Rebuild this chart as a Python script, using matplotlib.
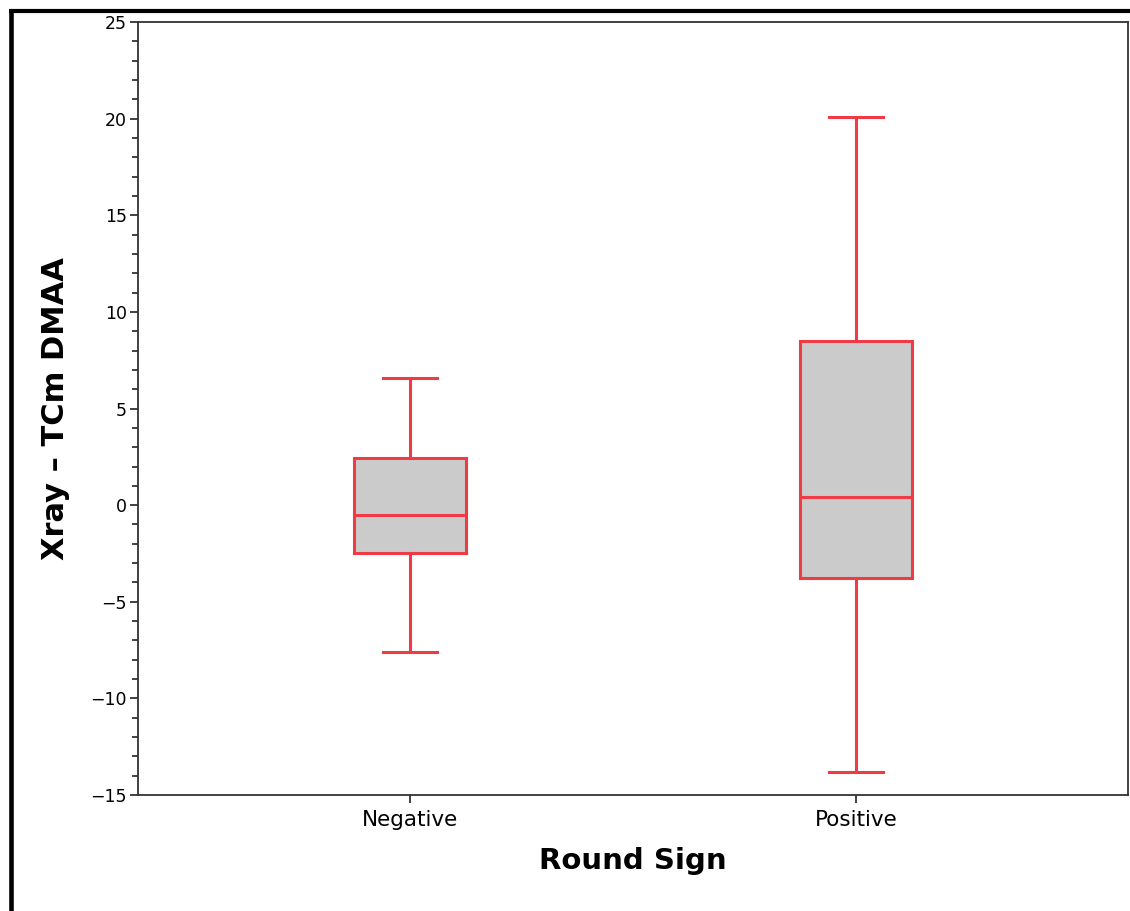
import matplotlib
matplotlib.use("Agg")
import matplotlib.pyplot as plt
from matplotlib.lines import Line2D
from matplotlib.ticker import MultipleLocator

# Box summary values
groups = ["Negative", "Positive"]
whisker_low = [-7.6, -13.8]
q1 = [-2.45, -3.75]
median = [-0.5, 0.4]
q3 = [2.45, 8.5]
whisker_high = [6.6, 20.1]

red = "#ee3b45"

stats = []
for i, g in enumerate(groups):
    stats.append({
        "label": g,
        "whislo": whisker_low[i],
        "q1": q1[i],
        "med": median[i],
        "q3": q3[i],
        "whishi": whisker_high[i],
        "fliers": [],
    })

fig = plt.figure(figsize=(11.3, 9.11), dpi=100)
ax = fig.add_axes([0.1221, 0.1273, 0.8761, 0.8485])

ax.bxp(
    stats, positions=[1, 2], widths=0.25, patch_artist=True, showfliers=False,
    boxprops=dict(facecolor="#cbcbcb", edgecolor=red, linewidth=2.2),
    medianprops=dict(color=red, linewidth=2.2),
    whiskerprops=dict(color=red, linewidth=2.2),
    capprops=dict(color=red, linewidth=2.2),
    capwidths=0.123,
)

ax.set_xlim(0.39, 2.61)
ax.set_ylim(-15, 25)
ax.yaxis.set_major_locator(MultipleLocator(5))
ax.yaxis.set_minor_locator(MultipleLocator(1))
ax.set_yticklabels([str(int(v)).replace("-", "\u2212") for v in ax.get_yticks()])

for s in ax.spines.values():
    s.set_color("#333333")
    s.set_linewidth(1.3)

ax.tick_params(axis="y", which="major", length=6, width=1.3, labelsize=12.5, color="#333333", pad=2)
ax.tick_params(axis="y", which="minor", length=4, width=1.3, color="#333333")
ax.tick_params(axis="x", which="major", length=6, width=1.3, labelsize=15.5, color="#333333", pad=5)

ax.set_xlabel("Round Sign", fontsize=21, fontweight="bold", labelpad=12)
ax.set_ylabel("Xray \u2013 TCm DMAA", fontsize=22, fontweight="bold")
ax.yaxis.set_label_coords(-0.069, 0.5)

# black frame along top and left of the figure
fig.add_artist(Line2D([9 / 1130, 1.0], [1 - 11 / 911, 1 - 11 / 911], color="black", linewidth=3,
                      solid_capstyle="butt", transform=fig.transFigure))
fig.add_artist(Line2D([10.5 / 1130, 10.5 / 1130], [0.0, 1 - 11 / 911], color="black", linewidth=3.3,
                      solid_capstyle="projecting", transform=fig.transFigure))

fig.savefig("out.png", dpi=100)
